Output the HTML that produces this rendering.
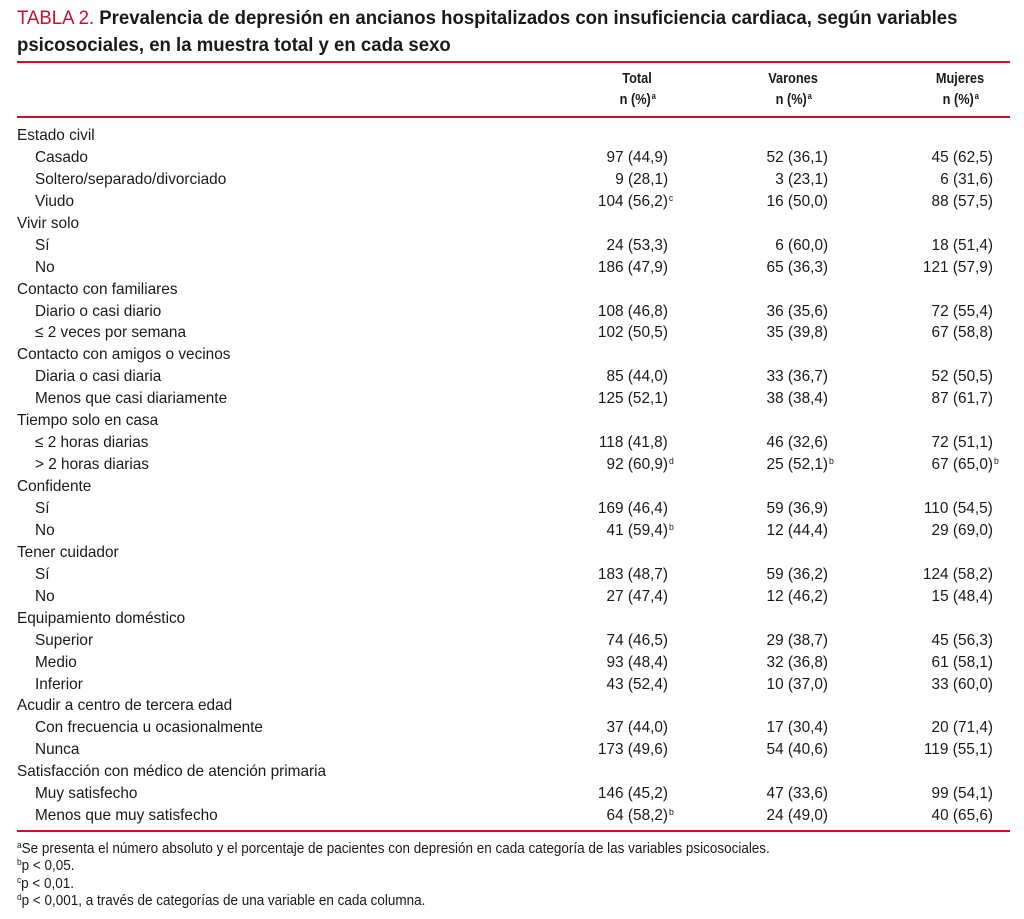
<!DOCTYPE html>
<html><head><meta charset="utf-8"><style>
body{margin:0;background:#fff;width:1024px;height:919px;position:relative;overflow:hidden;font-family:"Liberation Sans",Arial,sans-serif;color:#1a1a1a}
.t{position:absolute;left:17px;font-size:19px;font-weight:bold;line-height:27px;white-space:nowrap;transform:scaleX(0.978);transform-origin:left center}
.t .r{color:#c8102e;font-weight:normal}
.hr{position:absolute;left:17px;width:993px;height:2px;background:#c8102e}
.l{position:absolute;font-size:16px;white-space:nowrap;transform:scaleX(0.96);transform-origin:left center;line-height:20px}
.n{position:absolute;font-size:16px;white-space:nowrap;transform:scaleX(0.96);transform-origin:right center;line-height:20px;text-align:right}
.n sup,.h sup{font-size:9px;line-height:9px;position:absolute;top:2px;margin-left:1px}
.h{position:absolute;font-size:15px;font-weight:bold;white-space:nowrap;transform:translateX(-50%) scaleX(0.85);text-align:center;line-height:20px}
.f{position:absolute;left:17px;font-size:14.5px;white-space:nowrap;transform:scaleX(0.93);transform-origin:left center;line-height:17px}
.f sup{font-size:9px;vertical-align:5px;line-height:0}
</style></head><body>
<div class="t" style="top:5px"><span class="r">TABLA 2.</span> Prevalencia de depresión en ancianos hospitalizados con insuficiencia cardiaca, según variables</div>
<div class="t" style="top:32px">psicosociales, en la muestra total y en cada sexo</div>
<div class="hr" style="top:61px"></div>
<div class="hr" style="top:116px"></div>
<div class="hr" style="top:830px"></div>
<div class="h" style="left:637px;top:69px">Total</div>
<div class="h" style="left:637px;top:90px">n (%)<sup>a</sup>&nbsp;</div>
<div class="h" style="left:793px;top:69px">Varones</div>
<div class="h" style="left:793px;top:90px">n (%)<sup>a</sup>&nbsp;</div>
<div class="h" style="left:960px;top:69px">Mujeres</div>
<div class="h" style="left:960px;top:90px">n (%)<sup>a</sup>&nbsp;</div>
<div id="rows"></div>
<div class="f" style="top:841px"><sup>a</sup>Se presenta el número absoluto y el porcentaje de pacientes con depresión en cada categoría de las variables psicosociales.</div>
<div class="f" style="top:858px"><sup>b</sup>p &lt; 0,05.</div>
<div class="f" style="top:876px"><sup>c</sup>p &lt; 0,01.</div>
<div class="f" style="top:893px"><sup>d</sup>p &lt; 0,001, a través de categorías de una variable en cada columna.</div>
<script>
var R=[
["Estado civil"],
["Casado","97 (44,9)","52 (36,1)","45 (62,5)"],
["Soltero/separado/divorciado","9 (28,1)","3 (23,1)","6 (31,6)"],
["Viudo","104 (56,2)|c","16 (50,0)","88 (57,5)"],
["Vivir solo"],
["Sí","24 (53,3)","6 (60,0)","18 (51,4)"],
["No","186 (47,9)","65 (36,3)","121 (57,9)"],
["Contacto con familiares"],
["Diario o casi diario","108 (46,8)","36 (35,6)","72 (55,4)"],
["≤ 2 veces por semana","102 (50,5)","35 (39,8)","67 (58,8)"],
["Contacto con amigos o vecinos"],
["Diaria o casi diaria","85 (44,0)","33 (36,7)","52 (50,5)"],
["Menos que casi diariamente","125 (52,1)","38 (38,4)","87 (61,7)"],
["Tiempo solo en casa"],
["≤ 2 horas diarias","118 (41,8)","46 (32,6)","72 (51,1)"],
["> 2 horas diarias","92 (60,9)|d","25 (52,1)|b","67 (65,0)|b"],
["Confidente"],
["Sí","169 (46,4)","59 (36,9)","110 (54,5)"],
["No","41 (59,4)|b","12 (44,4)","29 (69,0)"],
["Tener cuidador"],
["Sí","183 (48,7)","59 (36,2)","124 (58,2)"],
["No","27 (47,4)","12 (46,2)","15 (48,4)"],
["Equipamiento doméstico"],
["Superior","74 (46,5)","29 (38,7)","45 (56,3)"],
["Medio","93 (48,4)","32 (36,8)","61 (58,1)"],
["Inferior","43 (52,4)","10 (37,0)","33 (60,0)"],
["Acudir a centro de tercera edad"],
["Con frecuencia u ocasionalmente","37 (44,0)","17 (30,4)","20 (71,4)"],
["Nunca","173 (49,6)","54 (40,6)","119 (55,1)"],
["Satisfacción con médico de atención primaria"],
["Muy satisfecho","146 (45,2)","47 (33,6)","99 (54,1)"],
["Menos que muy satisfecho","64 (58,2)|b","24 (49,0)","40 (65,6)"]];
var h="",rights=[1024-668,1024-828,1024-993];
R.forEach(function(r,i){var y=126+i*21.94;
if(r.length==1){h+='<div class="l" style="left:17px;top:'+y+'px">'+r[0]+'</div>';return;}
h+='<div class="l" style="left:35px;top:'+y+'px">'+r[0]+'</div>';
for(var k=1;k<4;k++){var p=r[k].split("|");h+='<div class="n" style="right:'+rights[k-1]+'px;top:'+y+'px">'+p[0]+(p[1]?'<sup>'+p[1]+'</sup>':'')+'</div>';}
});
document.getElementById("rows").innerHTML=h;
</script>
</body></html>
